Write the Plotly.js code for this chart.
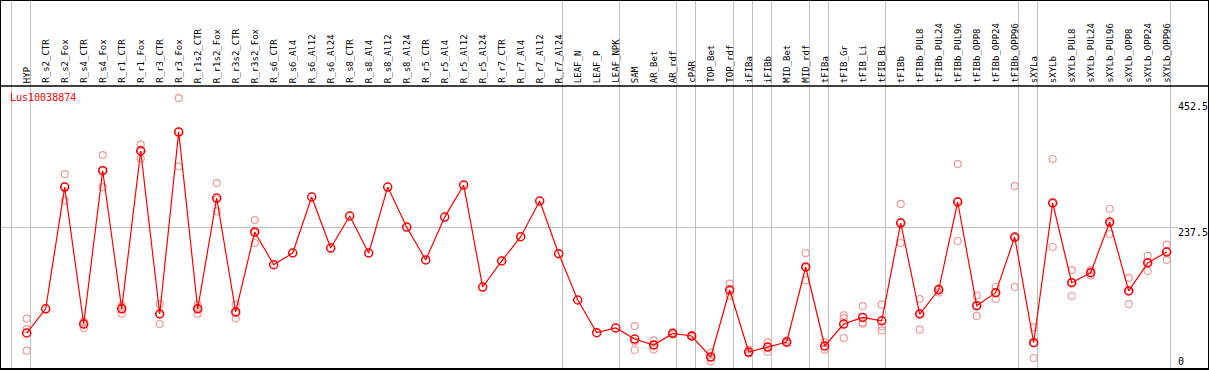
<!DOCTYPE html>
<html>
<head>
<meta charset="utf-8">
<script src="https://cdn.plot.ly/plotly-3.0.1.min.js"></script>
<style>html,body{margin:0;padding:0;background:#fff;}#chart{width:1209px;height:370px;}</style>
</head>
<body>
<div id="chart"></div>
<script>
const geneName = "Lus10038874";
const categories = ["HYP","R_s2_CTR","R_s2_Fox","R_s4_CTR","R_s4_Fox","R_r1_CTR","R_r1_Fox","R_r3_CTR","R_r3_Fox","R_r1s2_CTR","R_r1s2_Fox","R_r3s2_CTR","R_r3s2_Fox","R_s6_CTR","R_s6_Al4","R_s6_Al12","R_s6_Al24","R_s8_CTR","R_s8_Al4","R_s8_Al12","R_s8_Al24","R_r5_CTR","R_r5_Al4","R_r5_Al12","R_r5_Al24","R_r7_CTR","R_r7_Al4","R_r7_Al12","R_r7_Al24","LEAF_N","LEAF_P","LEAF_NPK","SAM","AR_Bet","AR_rdf","cPAR","TOP_Bet","TOP_rdf","iFIBa","iFIBb","MID_Bet","MID_rdf","tFIBa","tFIB_Gr","tFIB_Li","tFIB_Bi","tFIBb","tFIBb_PUL8","tFIBb_PUL24","tFIBb_PUL96","tFIBb_OPP8","tFIBb_OPP24","tFIBb_OPP96","sXYLa","sXYLb","sXYLb_PUL8","sXYLb_PUL24","sXYLb_PUL96","sXYLb_OPP8","sXYLb_OPP24","sXYLb_OPP96"];
const meanValues = [60.4,101,305.4,75.5,332.8,101,365.9,92.3,397.7,101,287,95.7,230,175,194.7,288.7,203,256.8,194.7,305.4,238.3,183,255,308.8,137.6,181.3,222,282,193.5,115.8,61,68.8,50.3,40.3,59.8,55.4,20.1,132.6,28.5,36.9,45.3,171.2,38.6,75.5,86.6,81,245,92.3,133,280.3,106.2,128,221.5,44.1,278.6,144.8,161.6,246.7,131,178,196.4];
const rep1 = [84.4,null,327,80,359,106.8,376.5,109,454.8,108,312,108,250,null,null,null,null,null,null,null,null,null,null,null,null,null,null,null,null,null,null,null,72,48,58,54,27.4,143.2,32.4,44.6,48,194.7,44.6,90,105.7,108,277,117.5,128.6,344,123,137.6,307,69.8,352.5,166,166,269,153,190,208.6];
const rep2 = [67,null,282.5,68.8,305.4,92.8,353,75.5,340,92.8,264.5,85,211.5,null,null,null,null,null,null,null,null,null,null,null,null,null,null,null,null,null,null,null,31.9,32.9,61,57,12.8,123,26,29,43,148.7,32.4,85,78.2,71.5,211.5,66,135,214.8,89,117.5,137.6,18.5,204.8,122.5,157,226.6,109,164.5,183];
const rep3 = [30.7,null,306.7,77.7,334,103.4,368.2,92.4,398.3,102.2,284.5,94.1,228.5,null,null,null,null,null,null,null,null,null,null,null,null,null,null,null,null,null,null,null,46.3,40,60,55,20.1,131.6,27.1,37.1,45,170.2,38.8,52,76,64.8,246.5,93.4,135.4,282,106.6,129,220,44,278.5,146,161.8,244.5,131,179.5,197.6];
const groupEnds = [-1,0,28,31,34,35,37,38,39,41,42,45,52,53,60];
const yTickLabels = ["0","237.5","452.5"];
const yTickValues = [0,237.5,452.5];

const idx = categories.map((c,i)=>i);
const pxPerCat = 19, W = 1209;
const firstOffsetPx = 26.7;
const xr0 = -firstOffsetPx/pxPerCat;
const xr1 = xr0 + W/pxPerCat;
const topPx = 86;
const plotH = 370 - topPx - 1;
const topPaper = 1 + topPx/plotH;

const repX = [], repY = [];
[rep1,rep2,rep3].forEach(r=>r.forEach((v,i)=>{ if(v!==null){ repX.push(i); repY.push(v);} }));

const traces = [
  {x: repX, y: repY, type:'scatter', mode:'markers', hoverinfo:'skip',
   marker:{symbol:'circle-open', size:7, color:'#ef9a9a', line:{width:1.2, color:'#ef9a9a'}}},
  {x: idx, y: meanValues, type:'scatter', mode:'lines+markers', hoverinfo:'skip',
   line:{color:'#ff0000', width:1.2},
   marker:{symbol:'circle-open', size:8, color:'#ff0000', line:{width:1.5, color:'#ff0000'}}}
];

const shapes = [];
groupEnds.forEach(g=>{
  shapes.push({type:'line', xref:'x', yref:'paper', x0:g+0.2, x1:g+0.2, y0:0, y1:topPaper,
    line:{color:'#c0c0c0', width:1}, layer:'below'});
});
shapes.push({type:'line', xref:'x', yref:'y', x0:xr0, x1:categories.length-1+0.6, y0:yTickValues[1], y1:yTickValues[1],
  line:{color:'#c0c0c0', width:1}, layer:'below'});
shapes.push({type:'line', xref:'paper', yref:'paper', x0:0, x1:1, y0:1, y1:1, line:{color:'#000', width:1.5}});
shapes.push({type:'rect', xref:'paper', yref:'paper', x0:0, x1:1, y0:0, y1:topPaper, line:{color:'#000', width:2}});

const font = "DejaVu Sans Mono, Liberation Mono, monospace";
const annotations = categories.map((c,i)=>({
  x:i, y:1, xref:'x', yref:'paper', text:c, showarrow:false, textangle:-90,
  xanchor:'center', yanchor:'bottom', yshift:1, font:{family:font, size:9, color:'#000'}
}));
annotations.push({x:8/W, y:1, xref:'paper', yref:'paper', text:geneName, showarrow:false,
  xanchor:'left', yanchor:'top', yshift:-4, font:{family:font, size:10, color:'#ff0000'}});
const tickShifts = [0,3,0];
yTickLabels.forEach((t,k)=>{
  annotations.push({x:1176/W, y:yTickValues[k], xref:'paper', yref:'y', text:t, showarrow:false,
    xanchor:'left', yanchor: k===0?'bottom':'top', yshift:tickShifts[k], font:{family:font, size:10, color:'#000'}});
});

const layout = {
  width:1209, height:370, margin:{l:0,r:0,t:topPx,b:1,pad:0},
  paper_bgcolor:'#fff', plot_bgcolor:'#fff', showlegend:false, hovermode:false,
  xaxis:{range:[xr0,xr1], showgrid:false, zeroline:false, showticklabels:false, showline:false, ticks:''},
  yaxis:{range:[0,475], showgrid:false, zeroline:false, showticklabels:false, showline:false, ticks:''},
  shapes:shapes, annotations:annotations
};
Plotly.newPlot('chart', traces, layout, {staticPlot:true, displayModeBar:false});
</script>
</body>
</html>
